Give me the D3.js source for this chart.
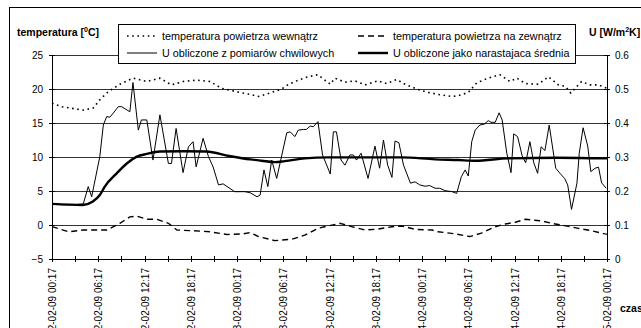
<!DOCTYPE html>
<html>
<head>
<meta charset="utf-8">
<script src="https://cdn.jsdelivr.net/npm/d3@7"></script>
<style>
  body { margin: 0; background: #fff; }
  svg { display: block; font-family: "Liberation Sans", Arial, sans-serif; }
  .axis path, .axis line { stroke: #000; shape-rendering: crispEdges; }
  .axis text { font-size: 10px; fill: #000; }
  .grid { stroke: #333; stroke-width: 1; shape-rendering: crispEdges; }
  .title { font-size: 10.5px; font-weight: bold; }
  .legend text { font-size: 10.8px; }
</style>
</head>
<body>
<svg id="chart" width="641" height="328"></svg>
<script>
// początek pomiarów
var startTime = new Date(2009, 1, 2, 0, 17);
var totalHours = 72;

// [godzina od startu, wartość]
// U obliczone z pomiarów chwilowych [W/m2K]
var uChwilowe = [
  [0,0.162],[1,0.160],[2,0.159],[3,0.160],[4.06,0.162],[4.7,0.213],[5.15,0.183],[6.2,0.301],
  [6.66,0.394],[7.1,0.419],[7.5,0.417],[7.95,0.429],[8.6,0.448],[9.04,0.448],[10.1,0.433],
  [10.5,0.519],[11.2,0.379],[11.6,0.409],[12.3,0.409],[13.1,0.291],[14.0,0.424],[15.1,0.281],
  [15.5,0.281],[16.1,0.384],[17.0,0.254],[17.7,0.330],[18.3,0.345],[18.7,0.271],[19.6,0.355],
  [20.3,0.301],[20.9,0.271],[21.6,0.218],[22.2,0.221],[23.7,0.198],[25.0,0.198],[25.7,0.195],
  [26.6,0.183],[27.0,0.188],[27.5,0.262],[28.0,0.213],[28.5,0.291],[29.15,0.237],[30.45,0.371],
  [30.9,0.374],[31.5,0.360],[31.95,0.379],[32.6,0.381],[33.0,0.381],[33.5,0.391],[33.9,0.389],
  [34.1,0.394],[34.5,0.404],[35.1,0.306],[36.1,0.250],[36.5,0.374],[36.9,0.374],[37.5,0.291],
  [38.0,0.276],[38.65,0.306],[39.1,0.306],[39.5,0.291],[40.1,0.311],[41.0,0.237],[41.9,0.332],
  [42.5,0.267],[43.0,0.350],[43.55,0.276],[44.1,0.240],[44.5,0.347],[45.0,0.342],[45.6,0.276],
  [46.5,0.223],[47.1,0.227],[47.7,0.218],[48.4,0.214],[49.0,0.216],[49.7,0.208],[50.3,0.208],
  [51.0,0.201],[51.9,0.198],[52.5,0.193],[53.1,0.242],[53.6,0.262],[54.0,0.244],[54.45,0.345],
  [54.9,0.379],[55.5,0.394],[56.1,0.397],[56.6,0.407],[56.95,0.402],[57.5,0.402],[58.0,0.430],
  [58.4,0.409],[59.0,0.311],[59.55,0.254],[59.9,0.368],[60.4,0.360],[61.0,0.303],[61.45,0.283],
  [62.0,0.345],[62.5,0.283],[63.0,0.252],[63.45,0.330],[63.95,0.319],[64.5,0.394],[65.35,0.267],
  [65.9,0.252],[66.5,0.237],[66.9,0.218],[67.4,0.146],[68.1,0.223],[68.4,0.311],[68.9,0.386],
  [69.5,0.332],[69.9,0.257],[70.45,0.267],[70.9,0.270],[71.3,0.224],[71.9,0.208]
];

// U obliczone jako narastająca średnia [W/m2K]
var uSrednia = [
  [0,0.162],[4,0.159],[5.3,0.169],[6.2,0.188],[6.85,0.213],[8.4,0.252],[9.7,0.281],[11,0.301],
  [12.3,0.309],[14,0.316],[17,0.317],[20,0.316],[23,0.303],[25.7,0.293],[27.2,0.289],[28.9,0.285],
  [30.2,0.288],[32.8,0.296],[35.8,0.299],[42.3,0.299],[45.4,0.299],[49.7,0.293],[52.7,0.291],
  [54.9,0.289],[59.2,0.296],[65.7,0.298],[72,0.296]
];

// temperatura powietrza wewnątrz [C]
var tWewn = [
  [0,17.9],[1.3,17.4],[2.3,17.2],[4.06,16.9],[5.35,17.2],[6.2,18.4],[7.3,19.6],[8.8,20.7],
  [10.5,21.6],[12.3,21.1],[14,21.6],[15.5,20.6],[17,21.1],[18.8,21.3],[20.5,21.1],[22,20.1],
  [23.95,19.6],[25.7,19.2],[26.8,18.9],[28.5,19.5],[29.8,20.0],[30.7,20.7],[31.95,21.3],
  [33.25,21.8],[34.5,22.1],[36.1,20.7],[36.7,21.6],[38,21.0],[39.3,21.2],[40.6,20.6],[42.3,21.2],
  [43.4,20.8],[44.7,21.4],[45.8,20.7],[47.1,20.1],[48.4,19.6],[49.7,19.3],[50.1,19.2],[51.9,18.9],
  [52.7,19.0],[54,19.5],[55.1,20.9],[56.6,21.6],[58.1,22.1],[59.4,21.1],[60.3,21.6],[61.4,20.8],
  [63.1,20.7],[64.4,21.8],[65.7,20.6],[66.6,20.4],[67.3,19.4],[68.7,21.1],[69.8,20.6],[70.9,20.6],
  [72,20.1]
];

// temperatura powietrza na zewnątrz [C]
var tZewn = [
  [0,-0.25],[2.2,-1.0],[4.06,-0.74],[7.1,-0.74],[8.8,0.25],[10.1,1.2],[11,1.3],[12.3,0.84],
  [13.6,0.84],[15.1,0.25],[16.2,-0.74],[18.3,-0.84],[20.5,-1.0],[22.7,-1.4],[24.8,-1.3],
  [25.7,-1.1],[26.8,-1.7],[28.9,-2.3],[31.1,-2.1],[32.8,-1.5],[34.5,-0.49],[35.8,-0.15],
  [37.4,0.25],[38.9,-0.25],[40.6,-0.74],[42.3,-0.6],[44.1,-0.25],[45.4,-0.15],[47.1,-0.64],
  [49.3,-0.74],[50.1,-1.0],[52.3,-1.3],[54.2,-1.7],[55.7,-1.2],[57.5,-0.25],[58.8,0.15],
  [60.1,0.4],[61.4,0.84],[63.5,0.6],[64.8,0.25],[66.5,-0.1],[68.3,-0.49],[70,-0.84],[71.7,-1.3],
  [72,-1.35]
];

var tempTicks = [-5, 0, 5, 10, 15, 20, 25];
var uTicks = [0, 0.1, 0.2, 0.3, 0.4, 0.5, 0.6];

var legendItems = [
  { name: "temperatura powietrza wewnątrz", cls: "dot" },
  { name: "temperatura powietrza na zewnątrz", cls: "dash" },
  { name: "U obliczone z pomiarów chwilowych", cls: "thin" },
  { name: "U obliczone jako narastajaca średnia", cls: "thick" }
];

var styles = {
  dot:   { w: 1.6, dash: "1.6 3.6" },
  dash:  { w: 1.4, dash: "6 4" },
  thin:  { w: 1,   dash: null },
  thick: { w: 2.4, dash: null }
};

var plotLeft = 52, plotRight = 607, plotTop = 55, plotBottom = 259;

var svg = d3.select("#chart");

// ramka wykresu
svg.append("rect")
  .attr("x", 9.5).attr("y", 7.5)
  .attr("width", 700).attr("height", 400)
  .attr("fill", "#fff").attr("stroke", "#000");

function hourToDate(h) { return new Date(startTime.getTime() + h * 3600000); }

var x = d3.scaleTime()
  .domain([startTime, hourToDate(totalHours)])
  .range([plotLeft, plotRight]);
var yT = d3.scaleLinear().domain([-5, 25]).range([plotBottom, plotTop]);
var yU = d3.scaleLinear().domain([0, 0.6]).range([plotBottom, plotTop]);

// linie siatki
svg.append("g").selectAll("line")
  .data(tempTicks)
  .enter().append("line")
  .attr("class", "grid")
  .attr("x1", plotLeft).attr("x2", plotRight)
  .attr("y1", function(d){ return yT(d); })
  .attr("y2", function(d){ return yT(d); });

// os X
var xTicks = d3.range(0, totalHours + 1, 3).map(hourToDate);
var fmt = d3.timeFormat("%d-%m-%y %H:%M");
var xAxis = svg.append("g")
  .attr("class", "axis")
  .attr("transform", "translate(0," + plotBottom + ")")
  .call(d3.axisBottom(x).tickValues(xTicks).tickSizeInner(3).tickSizeOuter(0)
    .tickFormat(function(d, i){ return i % 2 === 0 ? fmt(d) : ""; }));
xAxis.selectAll(".tick line").attr("y1", -3);
xAxis.selectAll(".tick text")
  .attr("transform", "rotate(-90)")
  .attr("x", -9).attr("y", 0).attr("dy", "0.35em")
  .style("text-anchor", "end");

// os temperatury
var yAxisL = svg.append("g")
  .attr("class", "axis")
  .attr("transform", "translate(" + plotLeft + ",0)")
  .call(d3.axisLeft(yT).tickValues(tempTicks).tickSizeInner(3).tickSizeOuter(0).tickPadding(6));
yAxisL.selectAll(".tick line").attr("x1", 3);

// os U
var yAxisR = svg.append("g")
  .attr("class", "axis")
  .attr("transform", "translate(" + plotRight + ",0)")
  .call(d3.axisRight(yU).tickValues(uTicks).tickSizeInner(3).tickSizeOuter(0).tickPadding(5)
    .tickFormat(function(d){ return d === 0 ? "0" : d.toFixed(1); }));
yAxisR.selectAll(".tick line").attr("x1", -3);

// serie
var lineT = d3.line()
  .x(function(d){ return x(hourToDate(d[0])); })
  .y(function(d){ return yT(d[1]); });
var lineU = d3.line()
  .x(function(d){ return x(hourToDate(d[0])); })
  .y(function(d){ return yU(d[1]); });
var lineUsmooth = d3.line()
  .curve(d3.curveMonotoneX)
  .x(function(d){ return x(hourToDate(d[0])); })
  .y(function(d){ return yU(d[1]); });

var series = [
  { data: tWewn, gen: lineT, cls: "dot" },
  { data: tZewn, gen: lineT, cls: "dash" },
  { data: uChwilowe, gen: lineU, cls: "thin" },
  { data: uSrednia, gen: lineUsmooth, cls: "thick" }
];

svg.append("g").selectAll("path")
  .data(series)
  .enter().append("path")
  .attr("d", function(d){ return d.gen(d.data); })
  .attr("fill", "none")
  .attr("stroke", "#000")
  .attr("stroke-linejoin", "round")
  .attr("stroke-width", function(d){ return styles[d.cls].w; })
  .attr("stroke-dasharray", function(d){ return styles[d.cls].dash; });

// legenda
var legend = svg.append("g").attr("class", "legend");
legend.append("rect")
  .attr("x", 118.5).attr("y", 24.5)
  .attr("width", 457).attr("height", 39)
  .attr("fill", "#fff").attr("stroke", "#000");

var items = legend.selectAll("g.item")
  .data(legendItems)
  .enter().append("g")
  .attr("class", "item")
  .attr("transform", function(d, i){
    return "translate(" + (i % 2 === 0 ? 127 : 358) + "," + (i < 2 ? 36 : 53) + ")";
  });
items.append("line")
  .attr("x1", 0).attr("x2", 30)
  .attr("stroke", "#000")
  .attr("stroke-width", function(d){ return styles[d.cls].w; })
  .attr("stroke-dasharray", function(d){ return styles[d.cls].dash; });
items.append("text")
  .attr("x", 35).attr("dy", "0.35em")
  .text(function(d){ return d.name; });

// tytuły osi
var tl = svg.append("text").attr("class", "title").attr("x", 17).attr("y", 36);
tl.append("tspan").text("temperatura [");
tl.append("tspan").attr("font-size", "7px").attr("dy", -4).text("0");
tl.append("tspan").attr("dy", 4).text("C]");

var tr = svg.append("text").attr("class", "title").attr("x", 589).attr("y", 36);
tr.append("tspan").text("U [W/m");
tr.append("tspan").attr("font-size", "7px").attr("dy", -4).text("2");
tr.append("tspan").attr("dy", 4).text("K]");

svg.append("text").attr("class", "title").attr("x", 620).attr("y", 312).text("czas");
</script>
</body>
</html>
